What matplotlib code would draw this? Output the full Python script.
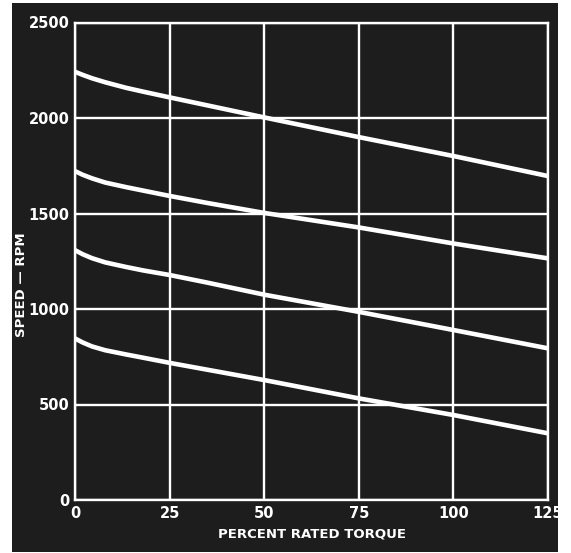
import matplotlib
matplotlib.use("Agg")
import matplotlib.pyplot as plt
from matplotlib.patches import Rectangle

# Data
torque = [0, 2, 4.5, 8, 13.5, 18, 25, 35, 50, 75, 100, 125]
speed_1 = [2242, 2226, 2208, 2187, 2158, 2138, 2108, 2066, 2003, 1900, 1801, 1696]
speed_2 = [1722, 1703, 1684, 1662, 1638, 1620, 1592, 1555, 1503, 1427, 1343, 1265]
speed_3 = [1308, 1287, 1266, 1244, 1220, 1202, 1178, 1138, 1075, 985, 890, 794]
speed_4 = [846, 825, 804, 784, 762, 745, 718, 682, 628, 532, 445, 349]
x_ticks = [0, 25, 50, 75, 100, 125]
y_ticks = [0, 500, 1000, 1500, 2000, 2500]
x_label = "PERCENT RATED TORQUE"
y_label = "SPEED — RPM"

W, H = 571, 553
fig = plt.figure(figsize=(W / 100, H / 100), dpi=100, facecolor="white")
bg = "#1d1d1d"
fig.patches.append(Rectangle((12 / W, 1 - 552 / H), (558 - 12) / W, (552 - 3) / H,
                             transform=fig.transFigure, facecolor=bg, edgecolor="none", zorder=-5))

ax = fig.add_axes([75 / W, 1 - 500 / H, (548 - 75) / W, (500 - 22.5) / H])
ax.set_zorder(1)
ax.set_facecolor(bg)
ax.set_xlim(0, 125)
ax.set_ylim(0, 2500)
ax.set_xticks(x_ticks)
ax.set_yticks(y_ticks)
ax.set_xticklabels([str(v) for v in x_ticks])
ax.set_yticklabels([str(v) for v in y_ticks])
ax.grid(True, color="white", linewidth=1.7, zorder=1)
ax.set_axisbelow(True)
for s in ax.spines.values():
    s.set_color("white")
    s.set_linewidth(1.7)
ax.tick_params(length=0, pad=4, colors="white", labelsize=10.5)
for lab in ax.get_xticklabels() + ax.get_yticklabels():
    lab.set_fontweight("bold")

for sp in (speed_1, speed_2, speed_3, speed_4):
    ax.plot(torque, sp, color="white", linewidth=3.3, solid_capstyle="butt", zorder=3)

ax.set_xlabel(x_label, color="white", fontsize=9.5, fontweight="bold", labelpad=5)
fig.text(22 / W, 1 - 285 / H, y_label, color="white", fontsize=9.5, fontweight="bold",
         rotation=90, ha="center", va="center", zorder=2)

fig.savefig("out.png", dpi=100, facecolor="white")
